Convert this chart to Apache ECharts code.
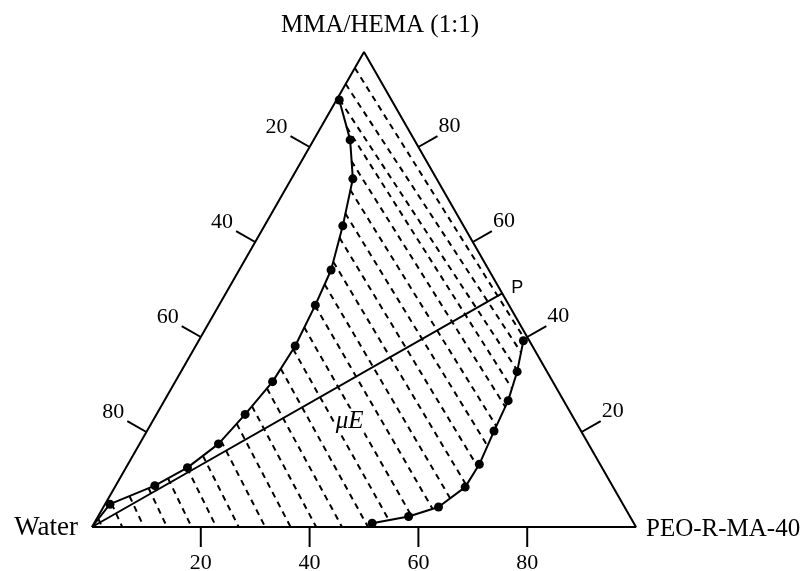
<!DOCTYPE html>
<html><head><meta charset="utf-8">
<script src="https://cdn.jsdelivr.net/npm/echarts@6/dist/echarts.min.js"></script>
<style>html,body{margin:0;padding:0;background:#fff}#c{width:803px;height:571px}</style>
</head><body><div id="c"></div>
<script>
// All compositions are [PEO-R-MA-40 %, MMA/HEMA %]; Water = 100 - PEO - MMA
const vertexNames = ['Water', 'PEO-R-MA-40', 'MMA/HEMA (1:1)'];
const vertexComp = [[0, 0], [100, 0], [0, 100]];
const tickValues = [20, 40, 60, 80];
const leftBranch = [[0.5,89.9],[6.7,81.5],[11.3,73.3],[14.4,63.4],[16.9,54.1],[17.7,46.7],[18.3,38.1],[17.9,30.6],[16.3,23.7],[14.5,17.5],[11.3,12.5],[7.2,8.7],[0.9,4.8]];
const rightBranch = [[59.7,39.2],[61.8,32.7],[63.2,26.6],[63.8,20.2],[64.6,13.2],[64.4,8.4],[61.6,4.2],[57.1,2.2],[51.1,0.8]];
const pointP = [50.8, 49.2];
const labelMuE = [36.2, 22.3];
// tie lines: [PEO start, MMA start, PEO end, MMA end]
const tieLines = [
  [0.32,1.71, 1.85,0],[1.15,4.92, 5.56,0],[3.66,6.48, 9.54,0],[6.33,8.15, 13.79,0],
  [8.88,10.21, 18.31,0],[11.26,12.44, 22.86,0],[12.89,14.99, 26.97,0],[14.68,18.11, 31.84,0],
  [15.74,21.73, 36.51,0],[16.71,25.41, 41.21,0],[17.59,29.16, 45.96,0],[18.04,33.33, 50.74,0],
  [18.23,37.47, 53.88,1.43],[17.99,42.04, 57.52,2.38],[17.68,46.63, 60.71,3.81],[17.24,51.07, 62.84,6.02],
  [16.47,55.81, 64.45,8.76],[15.07,60.88, 64.56,12.67],[13.54,66.04, 64.14,17.10],[12.01,70.95, 63.70,21.24],
  [9.16,77.05, 63.35,25.28],[4.67,84.23, 62.64,29.14],[0.5,90.0, 61.78,32.88],[0,93.26, 60.48,36.76],
  [0,96.63, 59.52,39.79]
];

function xy(c) { return [(c[0] + c[1] / 2) / 100, c[1] / 100]; }
const SERIF = "'Liberation Serif','Times New Roman',serif";
const BLACK = '#000';

const chart = echarts.init(document.getElementById('c'), null, {renderer: 'canvas'});

const tickItems = [];
tickValues.forEach(v => { tickItems.push([0, v]); tickItems.push([1, v]); tickItems.push([2, v]); });

const option = {
  animation: false,
  backgroundColor: '#fff',
  grid: {left: 92, top: 52, width: 544, height: 475},
  xAxis: {type: 'value', min: 0, max: 1, show: false},
  yAxis: {type: 'value', min: 0, max: 1, show: false},
  series: [
    {type: 'line', data: [xy(vertexComp[0]), xy(vertexComp[1]), xy(vertexComp[2]), xy(vertexComp[0])],
     symbol: 'none', lineStyle: {color: BLACK, width: 2}, z: 5},
    {type: 'lines', coordinateSystem: 'cartesian2d', polyline: false,
     data: tieLines.map(t => ({coords: [xy([t[0], t[1]]), xy([t[2], t[3]])]})),
     lineStyle: {color: BLACK, width: 2, type: [6, 5], opacity: 1}, z: 2},
    {type: 'line', data: [xy(vertexComp[0]), xy(pointP)], symbol: 'none', lineStyle: {color: BLACK, width: 2}, z: 4},
    {type: 'line', data: [{value: xy(vertexComp[0]), symbol: 'none'}].concat(leftBranch.slice().reverse().map(c => xy(c))),
     symbol: 'circle', symbolSize: 9, itemStyle: {color: BLACK}, lineStyle: {color: BLACK, width: 2}, z: 6},
    {type: 'line', data: rightBranch.map(c => xy(c)),
     symbol: 'circle', symbolSize: 9, itemStyle: {color: BLACK}, lineStyle: {color: BLACK, width: 2}, z: 6},
    {type: 'custom', coordinateSystem: 'cartesian2d', data: tickItems, z: 7,
     renderItem: function (params, api) {
       const axis = api.value(0), v = api.value(1);
       let comp;
       if (axis === 0) { comp = [v, 0]; }
       else if (axis === 1) { comp = [0, 100 - v]; }
       else { comp = [100 - v, v]; }
       const p = api.coord(xy(comp));
       let end, tx, ty, align, valign;
       if (axis === 0) { end = [p[0], p[1] + 20]; tx = end[0]; ty = end[1] + 5; align = 'center'; valign = 'top'; }
       else if (axis === 1) { end = [p[0] - 19.1, p[1] - 10.9]; tx = end[0] - 3; ty = end[1] - 9; align = 'right'; valign = 'middle'; }
       else { end = [p[0] + 19.1, p[1] - 10.9]; tx = end[0] + 1; ty = end[1] - 10; align = 'left'; valign = 'middle'; }
       return {type: 'group', children: [
         {type: 'line', shape: {x1: p[0], y1: p[1], x2: end[0], y2: end[1]}, style: {stroke: BLACK, lineWidth: 2}},
         {type: 'text', x: tx, y: ty, style: {text: String(v), fill: BLACK, font: '22px ' + SERIF, textAlign: align, textVerticalAlign: valign}}
       ]};
     }},
    {type: 'custom', coordinateSystem: 'cartesian2d', data: [0], z: 8,
     renderItem: function (params, api) {
       const w = api.coord(xy(vertexComp[0])), pe = api.coord(xy(vertexComp[1])), top = api.coord(xy(vertexComp[2]));
       const pp = api.coord(xy(pointP));
       const mid = api.coord(xy(labelMuE));
       return {type: 'group', children: [
         {type: 'text', x: w[0] - 14, y: w[1] + 1, style: {text: vertexNames[0], fill: BLACK, font: '27px ' + SERIF, textAlign: 'right', textVerticalAlign: 'middle'}},
         {type: 'text', x: pe[0] + 10, y: pe[1] + 2, style: {text: vertexNames[1], fill: BLACK, font: '25px ' + SERIF, textAlign: 'left', textVerticalAlign: 'middle'}},
         {type: 'text', x: top[0] + 16, y: top[1] - 27, style: {text: vertexNames[2], fill: BLACK, font: '25px ' + SERIF, textAlign: 'center', textVerticalAlign: 'middle'}},
         {type: 'text', x: pp[0] + 9, y: pp[1] - 5, style: {text: 'P', fill: BLACK, font: '18px "Liberation Sans",Arial,sans-serif', textAlign: 'left', textVerticalAlign: 'middle'}},
         {type: 'text', x: mid[0], y: mid[1], style: {text: 'μE', fill: BLACK, font: 'italic 25px ' + SERIF, textAlign: 'center', textVerticalAlign: 'middle', backgroundColor: '#fff', padding: [0, 1]}}
       ]};
     }}
  ]
};
chart.setOption(option);
</script>
</body></html>
